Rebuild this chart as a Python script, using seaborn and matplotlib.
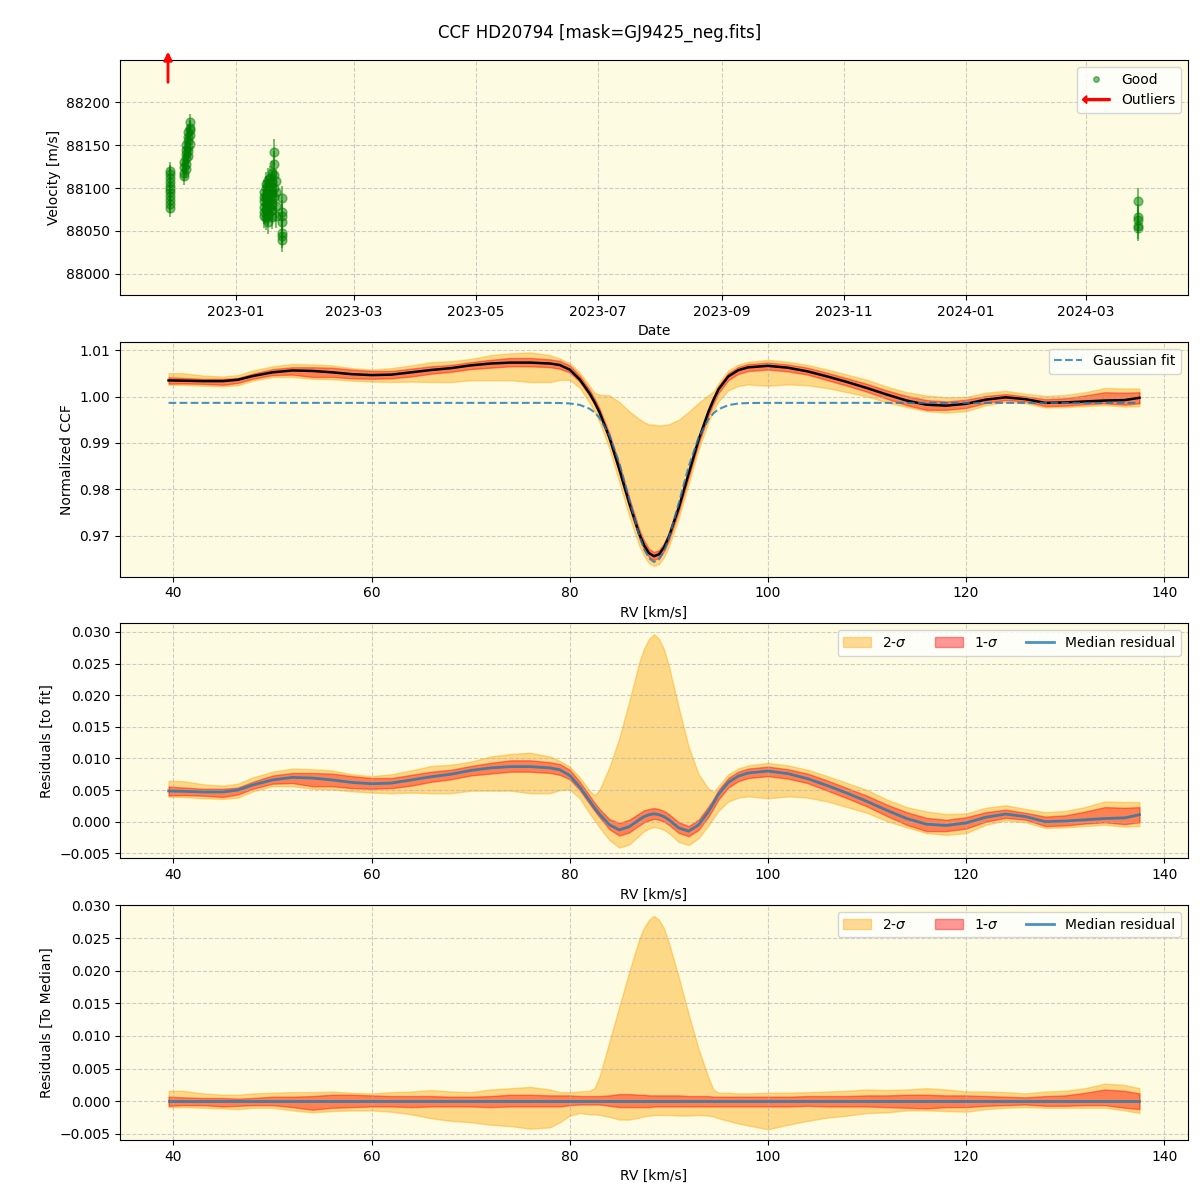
import numpy as np
import pandas as pd
import matplotlib
matplotlib.use("Agg")
import matplotlib.pyplot as plt
import matplotlib.dates as mdates
import matplotlib.transforms as mtransforms
from matplotlib.patches import FancyArrow, Patch
from matplotlib.lines import Line2D
from matplotlib.legend_handler import HandlerPatch
import seaborn as sns

TITLE = "CCF HD20794 [mask=GJ9425_neg.fits]"

# ---------------- top panel: RV time series ----------------
obs_dates = [
    "2022-11-29", "2022-11-29", "2022-11-29", "2022-11-29", "2022-11-29", "2022-11-29",
    "2022-11-29", "2022-11-29", "2022-11-29", "2022-11-29", "2022-11-29",
    "2022-12-06", "2022-12-06", "2022-12-06", "2022-12-06",
    "2022-12-07", "2022-12-07", "2022-12-07", "2022-12-07", "2022-12-07", "2022-12-07",
    "2022-12-08", "2022-12-08", "2022-12-08", "2022-12-08", "2022-12-08", "2022-12-08",
    "2022-12-09", "2022-12-09", "2022-12-09", "2022-12-09", "2022-12-09",
    "2023-01-15", "2023-01-15", "2023-01-15", "2023-01-15", "2023-01-15", "2023-01-15",
    "2023-01-16", "2023-01-16", "2023-01-16", "2023-01-16", "2023-01-16", "2023-01-16", "2023-01-16",
    "2023-01-17", "2023-01-17", "2023-01-17", "2023-01-17", "2023-01-17",
    "2023-01-18", "2023-01-18", "2023-01-18", "2023-01-18", "2023-01-18",
    "2023-01-19", "2023-01-19", "2023-01-19", "2023-01-19", "2023-01-19", "2023-01-19",
    "2023-01-20", "2023-01-20", "2023-01-20", "2023-01-20", "2023-01-20",
    "2023-01-21", "2023-01-21", "2023-01-21", "2023-01-21",
    "2023-01-24", "2023-01-24", "2023-01-24", "2023-01-24", "2023-01-24", "2023-01-24", "2023-01-24",
    "2024-03-27", "2024-03-27", "2024-03-27", "2024-03-27", "2024-03-27",
]
obs_rv = [
    88120, 88116, 88112, 88107, 88103, 88099, 88095, 88091, 88086, 88082, 88077,
    88125, 88118, 88114, 88130,
    88135, 88140, 88128, 88145, 88150, 88122,
    88155, 88160, 88148, 88165, 88138, 88143,
    88170, 88177, 88162, 88168, 88152,
    88095, 88085, 88078, 88072, 88068, 88090,
    88100, 88092, 88080, 88075, 88065, 88088, 88105,
    88110, 88098, 88083, 88070, 88060,
    88112, 88102, 88094, 88086, 88077,
    88118, 88107, 88096, 88082, 88074, 88066,
    88142, 88128, 88115, 88100, 88090,
    88108, 88095, 88079, 88068,
    88089, 88072, 88067, 88061, 88048, 88044, 88040,
    88085, 88066, 88063, 88056, 88053,
]
obs_err = [
    11, 11, 11, 11, 11, 11, 11, 11, 11, 11, 11,
    10, 10, 10, 10,
    10, 10, 10, 10, 10, 10,
    10, 10, 10, 10, 10, 10,
    10, 10, 10, 10, 10,
    14, 14, 14, 14, 14, 14,
    14, 14, 14, 14, 14, 14, 14,
    14, 14, 14, 14, 14,
    14, 14, 14, 14, 14,
    14, 14, 14, 14, 14, 14,
    15, 15, 15, 15, 15,
    14, 14, 14, 14,
    14, 14, 14, 14, 14, 14, 14,
    15, 15, 15, 15, 15,
]
outlier_dates = ["2022-11-28"]

# ---------------- CCF panels ----------------
rv_grid = [39.5, 41, 43, 45, 46.5, 48, 50, 52, 54, 56,
           58, 60, 62, 64, 66, 68, 70, 72, 74, 76,
           78, 79, 80, 81, 82, 82.5, 83, 84, 85, 86,
           87, 87.5, 88, 88.5, 89, 89.5, 90, 91, 92, 93, 94, 94.5,
           95, 96, 97, 98, 100, 102, 104, 106, 108, 110,
           112, 114, 116, 118, 120, 122, 124, 126, 128, 130,
           132, 134, 136, 137.5]

ccf_median = [1.00350, 1.00345, 1.00335, 1.00335, 1.00365, 1.00445, 1.00525, 1.00565, 1.00555, 1.00525,
              1.00485, 1.00465, 1.00475, 1.00525, 1.00575, 1.00615, 1.00675, 1.00715, 1.00735, 1.00735,
              1.00715, 1.00682, 1.00583, 1.00372, 1.00068, 0.99880, 0.99663, 0.99116, 0.98432, 0.97702,
              0.97039, 0.96789, 0.96619, 0.96555, 0.96593, 0.96740, 0.96972, 0.97601, 0.98340, 0.99066, 0.99675, 0.99929,
              1.00155, 1.00437, 1.00571, 1.00632, 1.00665, 1.00625, 1.00545, 1.00435, 1.00315, 1.00185,
              1.00045, 0.99915, 0.99825, 0.99805, 0.99845, 0.99935, 0.99985, 0.99945, 0.99865, 0.99875,
              0.99895, 0.99915, 0.99925, 0.99975]

gauss_fit = [0.99865, 0.99865, 0.99865, 0.99865, 0.99865, 0.99865, 0.99865, 0.99865, 0.99865, 0.99865,
             0.99865, 0.99865, 0.99865, 0.99865, 0.99865, 0.99865, 0.99865, 0.99865, 0.99865, 0.99865,
             0.99865, 0.99862, 0.99853, 0.99822, 0.99738, 0.99660, 0.99543, 0.99166, 0.98562, 0.97782,
             0.97009, 0.96709, 0.96509, 0.96430, 0.96483, 0.96660, 0.96942, 0.97701, 0.98490, 0.99116, 0.99515, 0.99639,
             0.99725, 0.99817, 0.99851, 0.99862, 0.99865, 0.99865, 0.99865, 0.99865, 0.99865, 0.99865,
             0.99865, 0.99865, 0.99865, 0.99865, 0.99865, 0.99865, 0.99865, 0.99865, 0.99865, 0.99865,
             0.99865, 0.99865, 0.99865, 0.99865]

# quantile offsets relative to the median profile
q_hi2 = [0.0016, 0.0016, 0.0012, 0.0010, 0.0010, 0.0012, 0.0013, 0.0014, 0.0014, 0.0015,
         0.0013, 0.0012, 0.0014, 0.0015, 0.0017, 0.0015, 0.0014, 0.0018, 0.0020, 0.0022,
         0.0018, 0.0014, 0.0014, 0.0015, 0.0016, 0.0020, 0.0038, 0.0091, 0.0145, 0.0198,
         0.0248, 0.0266, 0.0278, 0.0284, 0.0278, 0.0265, 0.0243, 0.0190, 0.0133, 0.0080, 0.0036, 0.0018,
         0.0013, 0.0013, 0.0012, 0.0012, 0.0013, 0.0013, 0.0014, 0.0015, 0.0016, 0.0018,
         0.0017, 0.0018, 0.0020, 0.0018, 0.0015, 0.0015, 0.0014, 0.0012, 0.0015, 0.0016,
         0.0020, 0.0027, 0.0025, 0.0020]
q_hi1 = [0.0007, 0.0006, 0.0005, 0.0005, 0.0004, 0.0005, 0.0007, 0.0007, 0.0008, 0.0010,
         0.0010, 0.0009, 0.0008, 0.0008, 0.0008, 0.0007, 0.0007, 0.0008, 0.0010, 0.0010,
         0.0009, 0.0009, 0.0009, 0.0008, 0.0008, 0.0008, 0.0008, 0.0009, 0.0011, 0.0011,
         0.0010, 0.0010, 0.0009, 0.0009, 0.0009, 0.0009, 0.0009, 0.0009, 0.0008, 0.0008, 0.0008, 0.0007,
         0.0007, 0.0007, 0.0007, 0.0007, 0.0007, 0.0007, 0.0008, 0.0008, 0.0008, 0.0009,
         0.0009, 0.0010, 0.0010, 0.0009, 0.0009, 0.0008, 0.0007, 0.0006, 0.0008, 0.0009,
         0.0013, 0.0018, 0.0016, 0.0012]
q_lo1 = [-0.0007, -0.0006, -0.0006, -0.0008, -0.0007, -0.0006, -0.0006, -0.0009, -0.0013, -0.0010,
         -0.0009, -0.0008, -0.0008, -0.0009, -0.0008, -0.0008, -0.0008, -0.0009, -0.0008, -0.0008,
         -0.0008, -0.0008, -0.0006, -0.0005, -0.0005, -0.0005, -0.0005, -0.0007, -0.0009, -0.0009,
         -0.0009, -0.0009, -0.0009, -0.0008, -0.0008, -0.0008, -0.0008, -0.0008, -0.0008, -0.0008, -0.0008, -0.0008,
         -0.0008, -0.0008, -0.0008, -0.0008, -0.0008, -0.0008, -0.0007, -0.0008, -0.0008, -0.0008,
         -0.0009, -0.0010, -0.0011, -0.0009, -0.0009, -0.0007, -0.0006, -0.0005, -0.0007, -0.0007,
         -0.0006, -0.0006, -0.0010, -0.0012]
q_lo2 = [-0.0009, -0.0009, -0.0010, -0.0011, -0.0012, -0.0010, -0.0010, -0.0014, -0.0017, -0.0015,
         -0.0014, -0.0014, -0.0016, -0.0020, -0.0026, -0.0030, -0.0032, -0.0036, -0.0038, -0.0042,
         -0.0040, -0.0032, -0.0022, -0.0018, -0.0020, -0.0020, -0.0021, -0.0024, -0.0028, -0.0028,
         -0.0025, -0.0023, -0.0022, -0.0021, -0.0021, -0.0021, -0.0021, -0.0022, -0.0022, -0.0021, -0.0022, -0.0023,
         -0.0026, -0.0030, -0.0034, -0.0037, -0.0043, -0.0036, -0.0030, -0.0025, -0.0022, -0.0018,
         -0.0017, -0.0014, -0.0014, -0.0015, -0.0016, -0.0012, -0.0010, -0.0009, -0.0010, -0.0010,
         -0.0010, -0.0010, -0.0014, -0.0018]

# ---------------- styling ----------------
plt.rcParams['font.family'] = ['DejaVu Sans']
BG = '#fdfbe2'


class HandlerArrow(HandlerPatch):
    def create_artists(self, legend, orig_handle, xdescent, ydescent,
                       width, height, fontsize, trans):
        arr = FancyArrow(-xdescent + width, -ydescent + 0.5 * height, -width, 0,
                         width=0.2 * height, head_width=0.8 * height,
                         head_length=0.45 * height, length_includes_head=True,
                         color='red')
        arr.set_transform(trans)
        return [arr]


fig, axes = plt.subplots(4, 1, figsize=(12, 12), dpi=100)
fig.subplots_adjust(left=0.1, right=0.99, top=0.95, bottom=0.05, hspace=0.2)
fig.suptitle(TITLE, fontsize=12, y=0.98)

for ax in axes:
    ax.set_facecolor(BG)
    ax.grid(True, linestyle='--', color='#b0b0b0', alpha=0.6)

# --- panel 1
ax = axes[0]
d = pd.to_datetime(obs_dates)
ax.errorbar(d, obs_rv, yerr=obs_err, fmt='none', ecolor='green', alpha=0.5, elinewidth=1.5)
sns.scatterplot(x=d, y=obs_rv, ax=ax, color='green', alpha=0.5, s=40,
                edgecolor='green', linewidth=1, legend=False)
trans = mtransforms.blended_transform_factory(ax.transData, ax.transAxes)
for od in pd.to_datetime(outlier_dates):
    xn = mdates.date2num(od)
    ax.annotate('', xy=(xn, 1.036), xycoords=trans, xytext=(xn, 0.905), textcoords=trans,
                arrowprops=dict(arrowstyle='-|>', color='red', lw=2, mutation_scale=12,
                                shrinkA=0, shrinkB=0),
                annotation_clip=False)
ax.set_xlim(pd.Timestamp('2022-11-04'), pd.Timestamp('2024-04-21'))
ax.set_ylim(87975.5, 88249.5)
ax.xaxis.set_major_locator(mdates.MonthLocator(bymonth=[1, 3, 5, 7, 9, 11]))
ax.xaxis.set_major_formatter(mdates.DateFormatter('%Y-%m'))
ax.set_xlabel('Date')
ax.set_ylabel('Velocity [m/s]')
good_h = Line2D([], [], marker='o', ls='', color='green', alpha=0.5, markersize=4)
out_h = Patch(color='red')
ax.legend([good_h, out_h], ['Good', 'Outliers'], handler_map={out_h: HandlerArrow()},
          loc='upper right')

rv = np.array(rv_grid)
med = np.array(ccf_median)
fit = np.array(gauss_fit)
hi2, hi1 = np.array(q_hi2), np.array(q_hi1)
lo1, lo2 = np.array(q_lo1), np.array(q_lo2)

# --- panel 2
ax = axes[1]
ax.fill_between(rv, med + lo2, med + hi2, color='orange', alpha=0.4)
ax.fill_between(rv, med + lo1, med + hi1, color='red', alpha=0.4)
sns.lineplot(x=rv, y=med, ax=ax, color='black', lw=1.8)
sns.lineplot(x=rv, y=fit, ax=ax, color='tab:blue', alpha=0.8, lw=1.5,
             linestyle='--', label='Gaussian fit')
ax.legend(loc='upper right')
ax.set_xlabel('RV [km/s]')
ax.set_ylabel('Normalized CCF')

# --- panel 3 & 4
for ax, center, ylab in [(axes[2], med - fit, 'Residuals [to fit]'),
                         (axes[3], med - med, 'Residuals [To Median]')]:
    ax.fill_between(rv, center + lo2, center + hi2, color='orange', alpha=0.4, label='2-$\\sigma$')
    ax.fill_between(rv, center + lo1, center + hi1, color='red', alpha=0.4, label='1-$\\sigma$')
    sns.lineplot(x=rv, y=center, ax=ax, color='tab:blue', alpha=0.8, lw=2,
                 label='Median residual')
    ax.legend(loc='upper right', ncol=3)
    ax.set_xlabel('RV [km/s]')
    ax.set_ylabel(ylab)

for ax in axes[1:]:
    ax.set_xlim(34.6, 142.4)

fig.savefig('out.png', dpi=100)
